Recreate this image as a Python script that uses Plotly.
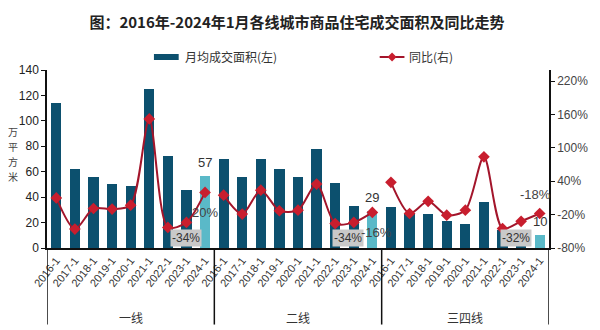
import plotly.graph_objects as go

groups = ["一线", "二线", "三四线"]
years = ["2016-1", "2017-1", "2018-1", "2019-1", "2020-1", "2021-1", "2022-1", "2023-1", "2024-1"]

area_tier1 = [114, 62, 56, 50, 49, 125, 72, 46, 57]
area_tier2 = [70, 56, 70, 62, 56, 78, 51, 33, 29]
area_tier34 = [32, 27, 27, 21.5, 19, 36.5, 14, 11.5, 10]

yoy_tier1 = [10, -46, -9, -10, -3, 152, -43, -34, 20]
yoy_tier2 = [15, -19, 24, -13, -12, 35, -36, -34, -16]
yoy_tier34 = [38, -18, 4, -21, -12, 84, -45, -32, -18]

areas = [area_tier1, area_tier2, area_tier34]
yoys = [yoy_tier1, yoy_tier2, yoy_tier34]

DARK = "#0c506e"
LIGHT = "#5ab9c8"
LINE = "#a3152b"
MARK = "#c81e2e"
CJK = "Noto Sans CJK SC"
LAT = "Liberation Sans"

n = len(years)
fig = go.Figure()

xs_all, ys_all, cols = [], [], []
for g, vals in enumerate(areas):
    for j, v in enumerate(vals):
        xs_all.append(g * n + j)
        ys_all.append(v)
        cols.append(LIGHT if j == n - 1 else DARK)

fig.add_trace(go.Bar(x=xs_all, y=ys_all, marker=dict(color=cols, line=dict(width=0)),
                     width=0.55, showlegend=False, yaxis="y"))

for g, vals in enumerate(yoys):
    fig.add_trace(go.Scatter(x=[g * n + j for j in range(n)], y=vals, yaxis="y2",
                             mode="lines+markers",
                             line=dict(color=LINE, width=2, shape="spline", smoothing=0.8),
                             marker=dict(symbol="diamond", size=9, color=MARK),
                             showlegend=False))

tickvals = list(range(3 * n))
ticktext = years * 3

fig.update_layout(
    width=600, height=330,
    margin=dict(l=47, r=46, t=70, b=82),
    paper_bgcolor="white", plot_bgcolor="white",
    bargap=0,
    title=dict(text="<b>图：2016年-2024年1月各线城市商品住宅成交面积及同比走势</b>",
               x=0.495, xanchor="center", y=0.93, yanchor="middle",
               font=dict(family=CJK, size=15, color="#222")),
    xaxis=dict(range=[-0.5, 3 * n - 0.5], tickvals=tickvals, ticktext=ticktext,
               tickangle=-52, tickfont=dict(family=LAT, size=11, color="#333"),
               showline=True, linecolor="#111", linewidth=1.5, ticks="",
               showgrid=False, zeroline=False),
    yaxis=dict(range=[0, 140], dtick=20, showline=True, linecolor="#111", linewidth=1.5,
               ticks="outside", ticklen=4, tickcolor="#111",
               tickfont=dict(family=LAT, size=12, color="#222"),
               showgrid=False, zeroline=False),
    yaxis2=dict(range=[-80, 240], tickvals=[-80, -20, 40, 100, 160, 220],
                ticktext=["-80%", "-20%", "40%", "100%", "160%", "220%"],
                overlaying="y", side="right", showline=True, linecolor="#111", linewidth=1.5,
                ticks="outside", ticklen=4, tickcolor="#111",
                tickfont=dict(family=LAT, size=12, color="#444"),
                showgrid=False, zeroline=False),
)

shapes = []
for b in [-0.5, n - 0.5, 2 * n - 0.5, 3 * n - 0.5]:
    shapes.append(dict(type="line", xref="x", yref="paper", x0=b, x1=b, y0=0, y1=-0.43,
                       line=dict(color="#111", width=1.5)))

# legend (drawn manually)
W, H = 507.0, 178.0
def px(x):
    return (x - 47) / W
def py(y):
    return (248 - y) / H

shapes.append(dict(type="rect", xref="paper", yref="paper", x0=px(155), x1=px(180),
                   y0=py(60), y1=py(54), fillcolor=DARK, line=dict(width=0)))
shapes.append(dict(type="line", xref="paper", yref="paper", x0=px(383), x1=px(408),
                   y0=py(57), y1=py(57), line=dict(color=LINE, width=2)))
cx, cy, d = 395.5, 57, 4.5
shapes.append(dict(type="path", xref="paper", yref="paper",
                   path=f"M {px(cx-d)},{py(cy)} L {px(cx)},{py(cy-d)} L {px(cx+d)},{py(cy)} L {px(cx)},{py(cy+d)} Z",
                   fillcolor=MARK, line=dict(width=0)))
fig.update_layout(shapes=shapes)

ann = []
# boxed labels first (so other labels sit on top)
for xpos, val in [(7, yoy_tier1[7]), (15.7, yoy_tier2[7]), (2 * n + 6.7, yoy_tier34[7])]:
    ann.append(dict(text=f"{val}%", xref="x", yref="y", x=xpos, y=0, yanchor="bottom",
                    yshift=1, showarrow=False, bgcolor="#c9c9c9", borderpad=1,
                    font=dict(family=LAT, size=12, color="#333")))

ann.append(dict(text="月均成交面积(左)", xref="paper", yref="paper", x=px(184), y=py(57),
                xanchor="left", yanchor="middle", showarrow=False,
                font=dict(family=CJK, size=12, color="#333")))
ann.append(dict(text="同比(右)", xref="paper", yref="paper", x=px(411), y=py(57),
                xanchor="left", yanchor="middle", showarrow=False,
                font=dict(family=CJK, size=12, color="#333")))
for k, ch in enumerate("万平方米"):
    ann.append(dict(text=ch, xref="paper", yref="paper", x=px(13), y=py(131 + 15 * k),
                    xanchor="center", yanchor="middle", showarrow=False,
                    font=dict(family=CJK, size=10, color="#444")))
for g, name in enumerate(groups):
    ann.append(dict(text=name, xref="x", yref="paper", x=g * n + 4, y=py(317),
                    xanchor="center", yanchor="middle", showarrow=False,
                    font=dict(family=CJK, size=12, color="#333")))

# value labels for last bars
for g in range(3):
    ann.append(dict(text=f"{areas[g][-1]:g}", xref="x", yref="y", x=g * n + n - 1,
                    y=areas[g][-1], yanchor="bottom", yshift=4, showarrow=False,
                    font=dict(family=LAT, size=13, color="#333")))

# yoy labels
ann.append(dict(text=f"{yoy_tier1[-1]}%", xref="x", yref="y2", x=n - 1, y=yoy_tier1[-1],
                yshift=-20, showarrow=False, font=dict(family=LAT, size=13, color="#444")))
ann.append(dict(text=f"{yoy_tier2[-1]}%", xref="x", yref="y2", x=2 * n - 0.8, y=yoy_tier2[-1],
                yshift=-20, showarrow=False, font=dict(family=LAT, size=13, color="#444")))
ann.append(dict(text=f"{yoy_tier34[-1]}%", xref="x", yref="y2", x=3 * n - 1.25, y=yoy_tier34[-1],
                yshift=19, showarrow=False, font=dict(family=LAT, size=13, color="#444")))

fig.update_layout(annotations=ann)
fig.write_html("out.html")
